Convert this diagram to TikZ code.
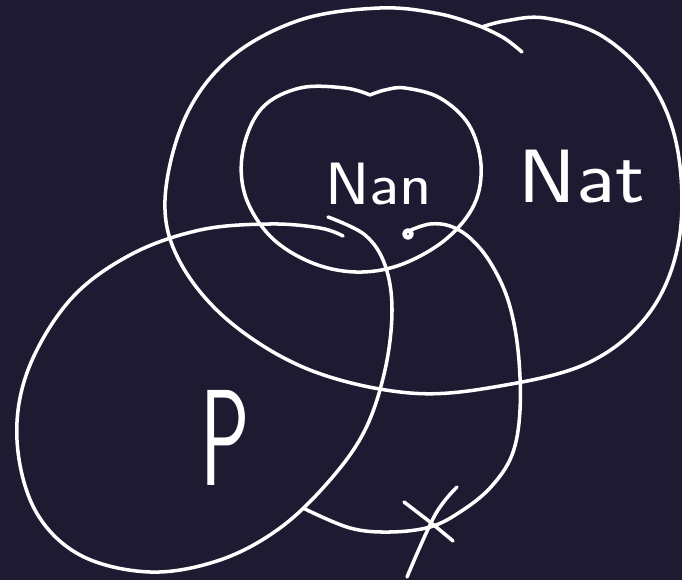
\documentclass[tikz,border=0pt]{standalone}
\begin{document}
\begin{tikzpicture}[x=0.02cm,y=-0.02cm,
  ink/.style={draw=white,line width=2pt,line cap=round,line join=round},
  lbl/.style={text=white,inner sep=0pt,font=\sffamily}]
\definecolor{bg}{RGB}{29,26,49}
\fill[bg] (0,0) rectangle (682,580);
\useasboundingbox (0,0) rectangle (682,580);
% Nat outer shape
\draw[ink] plot[smooth,tension=0.6] coordinates {(522,52) (504,38) (482,27)};
\draw[ink] plot[smooth,tension=0.6] coordinates {(482,27) (440,14) (380,8) (300,20) (230,58) (185,118) (165,200) (180,262) (230,322) (310,370) (410,393) (500,386) (590,362) (650,312) (679,240) (678,152) (652,84) (602,36) (545,18) (505,21) (482,27)};
% Nan heart
\draw[ink] plot[smooth,tension=0.6] coordinates {(370,95) (345,88) (300,88) (262,108) (243,150) (245,195) (270,236) (310,262) (355,272) (400,265) (445,240) (474,205) (481,165) (469,125) (440,98) (405,88) (385,90) (370,95)};
% P shape
\draw[ink] plot[smooth,tension=0.6] coordinates {(343,236) (320,228) (270,224) (200,230) (130,255) (70,300) (28,370) (17,440) (35,510) (80,555) (150,572) (220,560) (280,528) (330,480) (365,430) (385,370) (392,310) (385,265) (365,235) (328,217)};
% X curve
\draw[ink,line width=2.6pt] (408,234) circle[radius=3.5];
\draw[ink] plot[smooth,tension=0.6] coordinates {(411,230) (430,224) (450,226) (470,238) (490,262) (508,300) (518,350) (520,410) (512,455) (490,488) (460,512) (430,527) (390,532) (350,528) (305,509)};
% x mark
\draw[ink] plot[smooth,tension=0.6] coordinates {(404,502) (430,522) (453,541)};
\draw[ink] plot[smooth,tension=0.6] coordinates {(457,487) (435,515) (407,577)};
% labels
\node[lbl,anchor=base west,xscale=1.15,font=\sffamily\fontsize{43}{43}\selectfont] (nat) at (518,203) {Nat};
\node[lbl,anchor=base west,xscale=1.12,font=\sffamily\fontsize{34}{34}\selectfont] (nan) at (325,205) {Nan};
\node[lbl,anchor=base west,xscale=0.6,font=\sffamily\fontsize{78}{78}\selectfont] (p) at (200,485) {P};
\end{tikzpicture}
\end{document}
